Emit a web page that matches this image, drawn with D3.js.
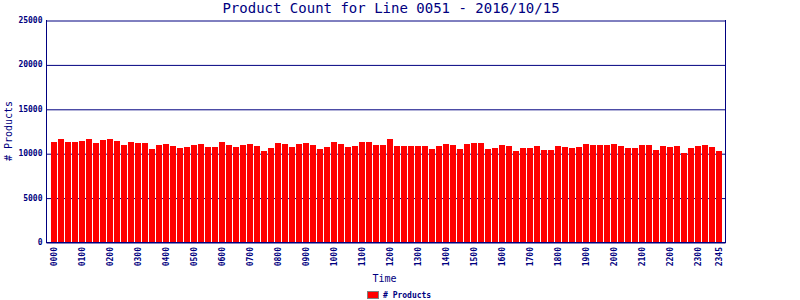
<!DOCTYPE html>
<html><head><meta charset="utf-8">
<script src="https://cdn.jsdelivr.net/npm/d3@7/dist/d3.min.js"></script>
<style>body{margin:0;background:#fff}svg{display:block}</style>
</head><body><svg id="c" width="800" height="300"></svg>
<script>
const times = ["0000","0015","0030","0045","0100","0115","0130","0145","0200","0215","0230","0245",
"0300","0315","0330","0345","0400","0415","0430","0445","0500","0515","0530","0545",
"0600","0615","0630","0645","0700","0715","0730","0745","0800","0815","0830","0845",
"0900","0915","0930","0945","1000","1015","1030","1045","1100","1115","1130","1145",
"1200","1215","1230","1245","1300","1315","1330","1345","1400","1415","1430","1445",
"1500","1515","1530","1545","1600","1615","1630","1645","1700","1715","1730","1745",
"1800","1815","1830","1845","1900","1915","1930","1945","2000","2015","2030","2045",
"2100","2115","2130","2145","2200","2215","2230","2245","2300","2315","2330","2345"];
const products = [11260,11600,11260,11260,11370,11600,11150,11490,11600,11370,10920,11260,
11150,11150,10470,10920,11040,10810,10590,10700,10920,11040,10700,10700,
11260,10920,10700,10920,11040,10810,10250,10590,11150,11040,10700,11040,
11150,10920,10470,10700,11260,11040,10700,10810,11260,11260,10920,10920,
11600,10810,10810,10810,10810,10810,10470,10810,11040,10920,10470,11040,
11150,11150,10470,10590,10920,10810,10250,10590,10590,10810,10360,10360,
10810,10700,10590,10700,11040,10920,10920,10920,11040,10810,10590,10590,
10920,10920,10360,10810,10700,10810,10020,10590,10810,10920,10700,10250];
const xTickLabels = ["0000","0100","0200","0300","0400","0500","0600","0700","0800","0900","1000","1100",
"1200","1300","1400","1500","1600","1700","1800","1900","2000","2100","2200","2300","2345"];
const yTicks = [0,5000,10000,15000,20000,25000];
const title = "Product Count for Line 0051 - 2016/10/15";
const navy = "#000080";
const mono = "'DejaVu Sans Mono', monospace";

const svg = d3.select("#c");
const L = 46, R = 725, T = 20, B = 242;
const x = d3.scaleBand().domain(times).range([50.5, 722.5]).paddingInner(1/7).paddingOuter(1/14);
const y = d3.scaleLinear().domain([0, 25000]).range([B, T]);

// gridlines + y labels
const ya = svg.append("g").attr("transform", `translate(${L+0.5},0)`)
  .call(d3.axisLeft(y).tickValues(yTicks).tickSize(-(R - L)).tickPadding(4).tickFormat(d => d));
ya.select(".domain").remove();
ya.selectAll(".tick line").attr("stroke", navy).attr("stroke-width", 1).attr("transform", "translate(0,0.5)");
ya.selectAll(".tick text").attr("fill", navy).attr("font-family", mono).attr("font-size", 8).attr("font-weight", "bold");

// bars
svg.append("g").selectAll("rect").data(products).join("rect")
  .attr("x", (d, i) => x(times[i])).attr("width", x.bandwidth())
  .attr("y", d => Math.round(y(d))).attr("height", d => B - Math.round(y(d)))
  .attr("fill", "#ff0000");

// axis frame lines
svg.append("line").attr("x1", L+0.5).attr("x2", L+0.5).attr("y1", T).attr("y2", B+1).attr("stroke", navy);
svg.append("line").attr("x1", R+0.5).attr("x2", R+0.5).attr("y1", T).attr("y2", B+1).attr("stroke", navy);
svg.append("line").attr("x1", L).attr("x2", R+1).attr("y1", B+0.5).attr("y2", B+0.5).attr("stroke", navy);

// x axis labels
const xa = svg.append("g").attr("transform", `translate(0,${B+1})`)
  .call(d3.axisBottom(x).tickValues(xTickLabels).tickSize(0).tickPadding(0));
xa.select(".domain").remove();
xa.selectAll(".tick text")
  .attr("fill", navy).attr("font-family", mono).attr("font-size", 8).attr("font-weight", "bold")
  .attr("text-anchor", "end").attr("transform", "rotate(-90)")
  .attr("x", -4).attr("y", 0).attr("dy", "0.32em");

// title
svg.append("text").attr("x", 391).attr("y", 13).attr("text-anchor", "middle")
  .attr("fill", navy).attr("font-family", mono).attr("font-size", 14).text(title);

// y label
svg.append("text").attr("transform", "translate(11.5,131) rotate(-90)").attr("text-anchor", "middle")
  .attr("fill", navy).attr("font-family", mono).attr("font-size", 10).text("# Products");

// x label
svg.append("text").attr("x", 384.5).attr("y", 282).attr("text-anchor", "middle")
  .attr("fill", navy).attr("font-family", mono).attr("font-size", 10).text("Time");

// legend
svg.append("rect").attr("x", 367.5).attr("y", 291.5).attr("width", 11).attr("height", 7)
  .attr("fill", "#ff0000").attr("stroke", "#808080");
svg.append("text").attr("x", 383).attr("y", 298).attr("fill", navy)
  .attr("font-family", mono).attr("font-size", 8).attr("font-weight", "bold").text("# Products");
</script></body></html>
